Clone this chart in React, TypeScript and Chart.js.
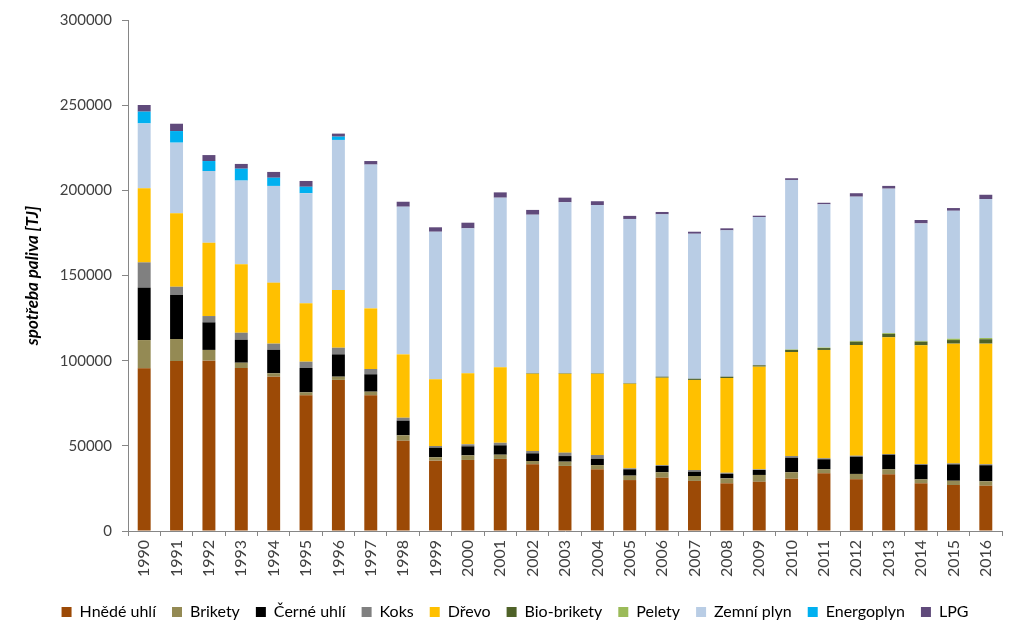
import React, { useEffect, useRef } from "react";
import { Chart, registerables } from "chart.js";

Chart.register(...registerables);

const years = ["1990","1991","1992","1993","1994","1995","1996","1997","1998","1999","2000","2001","2002","2003","2004","2005","2006","2007","2008","2009","2010","2011","2012","2013","2014","2015","2016"];

const hnedeUhli = [95500, 99800, 100000, 95700, 90600, 79700, 88700, 79700, 53000, 41300, 41700, 42300, 39200, 38200, 36200, 29900, 31300, 29400, 28000, 28900, 30700, 33900, 30400, 33300, 28000, 27000, 26600];
const brikety = [16600, 12900, 6300, 3100, 2000, 1700, 1900, 2100, 3200, 2000, 2700, 2500, 1900, 2500, 2500, 2600, 3200, 2900, 2900, 4000, 3800, 2300, 3100, 2900, 2300, 2500, 2600];
const cerneUhli = [30800, 25900, 16200, 13500, 13800, 14300, 13100, 10200, 8600, 5600, 5300, 5500, 4500, 3300, 3700, 3700, 3700, 2500, 2600, 2900, 8500, 5900, 10100, 8600, 8600, 9600, 9400];
const koks = [14800, 4800, 3700, 4100, 3600, 3700, 3900, 3100, 1700, 1000, 1200, 1500, 1400, 2000, 2200, 600, 500, 1000, 700, 400, 1000, 600, 600, 400, 400, 600, 600];
const drevo = [43500, 43100, 43100, 40200, 35800, 34300, 33900, 35600, 37200, 39200, 41700, 44300, 45300, 46300, 47700, 49600, 51300, 52900, 55600, 60300, 61100, 63600, 65000, 68500, 69700, 70300, 70800];
const bioBrikety = [0, 0, 0, 0, 0, 0, 0, 0, 0, 0, 0, 0, 300, 300, 300, 300, 600, 700, 800, 800, 1200, 1100, 1900, 2000, 2100, 2100, 2600];
const pelety = [0, 0, 0, 0, 0, 0, 0, 0, 0, 0, 0, 0, 0, 0, 0, 0, 0, 0, 0, 0, 300, 300, 500, 500, 500, 800, 700];
const zemniPlyn = [38100, 41500, 42000, 49100, 56800, 64600, 88100, 84400, 86700, 86600, 85100, 99600, 93100, 100400, 98800, 96500, 95300, 85100, 85900, 87000, 99500, 84100, 84700, 84800, 69000, 75100, 81600];
const energoplyn = [6900, 6800, 5900, 7000, 4800, 3800, 1900, 0, 0, 0, 0, 0, 0, 0, 0, 0, 0, 0, 0, 0, 0, 0, 0, 0, 0, 0, 0];
const lpg = [3900, 4300, 3500, 2800, 3400, 3400, 1800, 2100, 2900, 2600, 3300, 3100, 2800, 2700, 2200, 1800, 1400, 1200, 1200, 800, 1000, 900, 2000, 1600, 2000, 1600, 2500];

const seriesNames = ["Hnědé uhlí", "Brikety", "Černé uhlí", "Koks", "Dřevo", "Bio-brikety", "Pelety", "Zemní plyn", "Energoplyn", "LPG"];
const seriesColors = ["#9C4A06", "#948A54", "#000000", "#808080", "#FFC000", "#4F6228", "#9BBB59", "#B9CDE5", "#00B0F0", "#604A7B"];
const seriesData = [hnedeUhli, brikety, cerneUhli, koks, drevo, bioBrikety, pelety, zemniPlyn, energoplyn, lpg];

const yTicks = [0, 50000, 100000, 150000, 200000, 250000, 300000];
const yTitle = "spotřeba paliva [TJ]";

const FONT = "Lato, 'Open Sans', sans-serif";

export default function App() {
  const ref = useRef<HTMLCanvasElement | null>(null);

  useEffect(() => {
    if (!ref.current) return;
    const chart = new Chart(ref.current, {
      type: "bar",
      data: {
        labels: years,
        datasets: seriesNames.map((name, i) => ({
          label: name,
          data: seriesData[i],
          backgroundColor: seriesColors[i],
          borderWidth: 0,
          barPercentage: 0.4,
          categoryPercentage: 1,
        })),
      },
      options: {
        responsive: false,
        animation: false,
        layout: { padding: { left: 28, right: 21, top: 20, bottom: 10 } },
        plugins: {
          tooltip: { enabled: false },
          legend: {
            position: "bottom",
            labels: {
              boxWidth: 10,
              boxHeight: 10,
              padding: 16,
              color: "#000000",
              font: { family: FONT, size: 16 },
            },
          },
        },
        scales: {
          x: {
            stacked: true,
            afterFit: (s: any) => { s.height = 57; },
            grid: {
              offset: true,
              drawOnChartArea: false,
              drawTicks: true,
              tickLength: 5,
              color: "#868686",
            },
            border: { color: "#868686", width: 1 },
            ticks: {
              minRotation: 90,
              maxRotation: 90,
              autoSkip: false,
              padding: 4,
              color: "#404040",
              font: { family: FONT, size: 16 },
            },
          },
          y: {
            stacked: true,
            min: 0,
            max: 300000,
            afterFit: (s: any) => { s.width = 100; },
            afterBuildTicks: (s: any) => { s.ticks = yTicks.map((v) => ({ value: v })); },
            grid: {
              drawOnChartArea: false,
              drawTicks: true,
              tickLength: 6,
              color: "#868686",
            },
            border: { color: "#868686", width: 1 },
            ticks: {
              padding: 10,
              color: "#404040",
              font: { family: FONT, size: 15 },
              callback: (v: any) => String(v),
            },
            title: {
              display: true,
              text: yTitle,
              color: "#000000",
              padding: { top: -6, bottom: 0 },
              font: { family: FONT, size: 17, weight: "bold", style: "italic" },
            },
          },
        },
      },
    });
    return () => chart.destroy();
  }, []);

  return (
    <div style={{ position: "absolute", left: 0, top: 0, width: 1023, height: 640, background: "#fff" }}>
      <canvas ref={ref} width={1023} height={640} />
    </div>
  );
}
